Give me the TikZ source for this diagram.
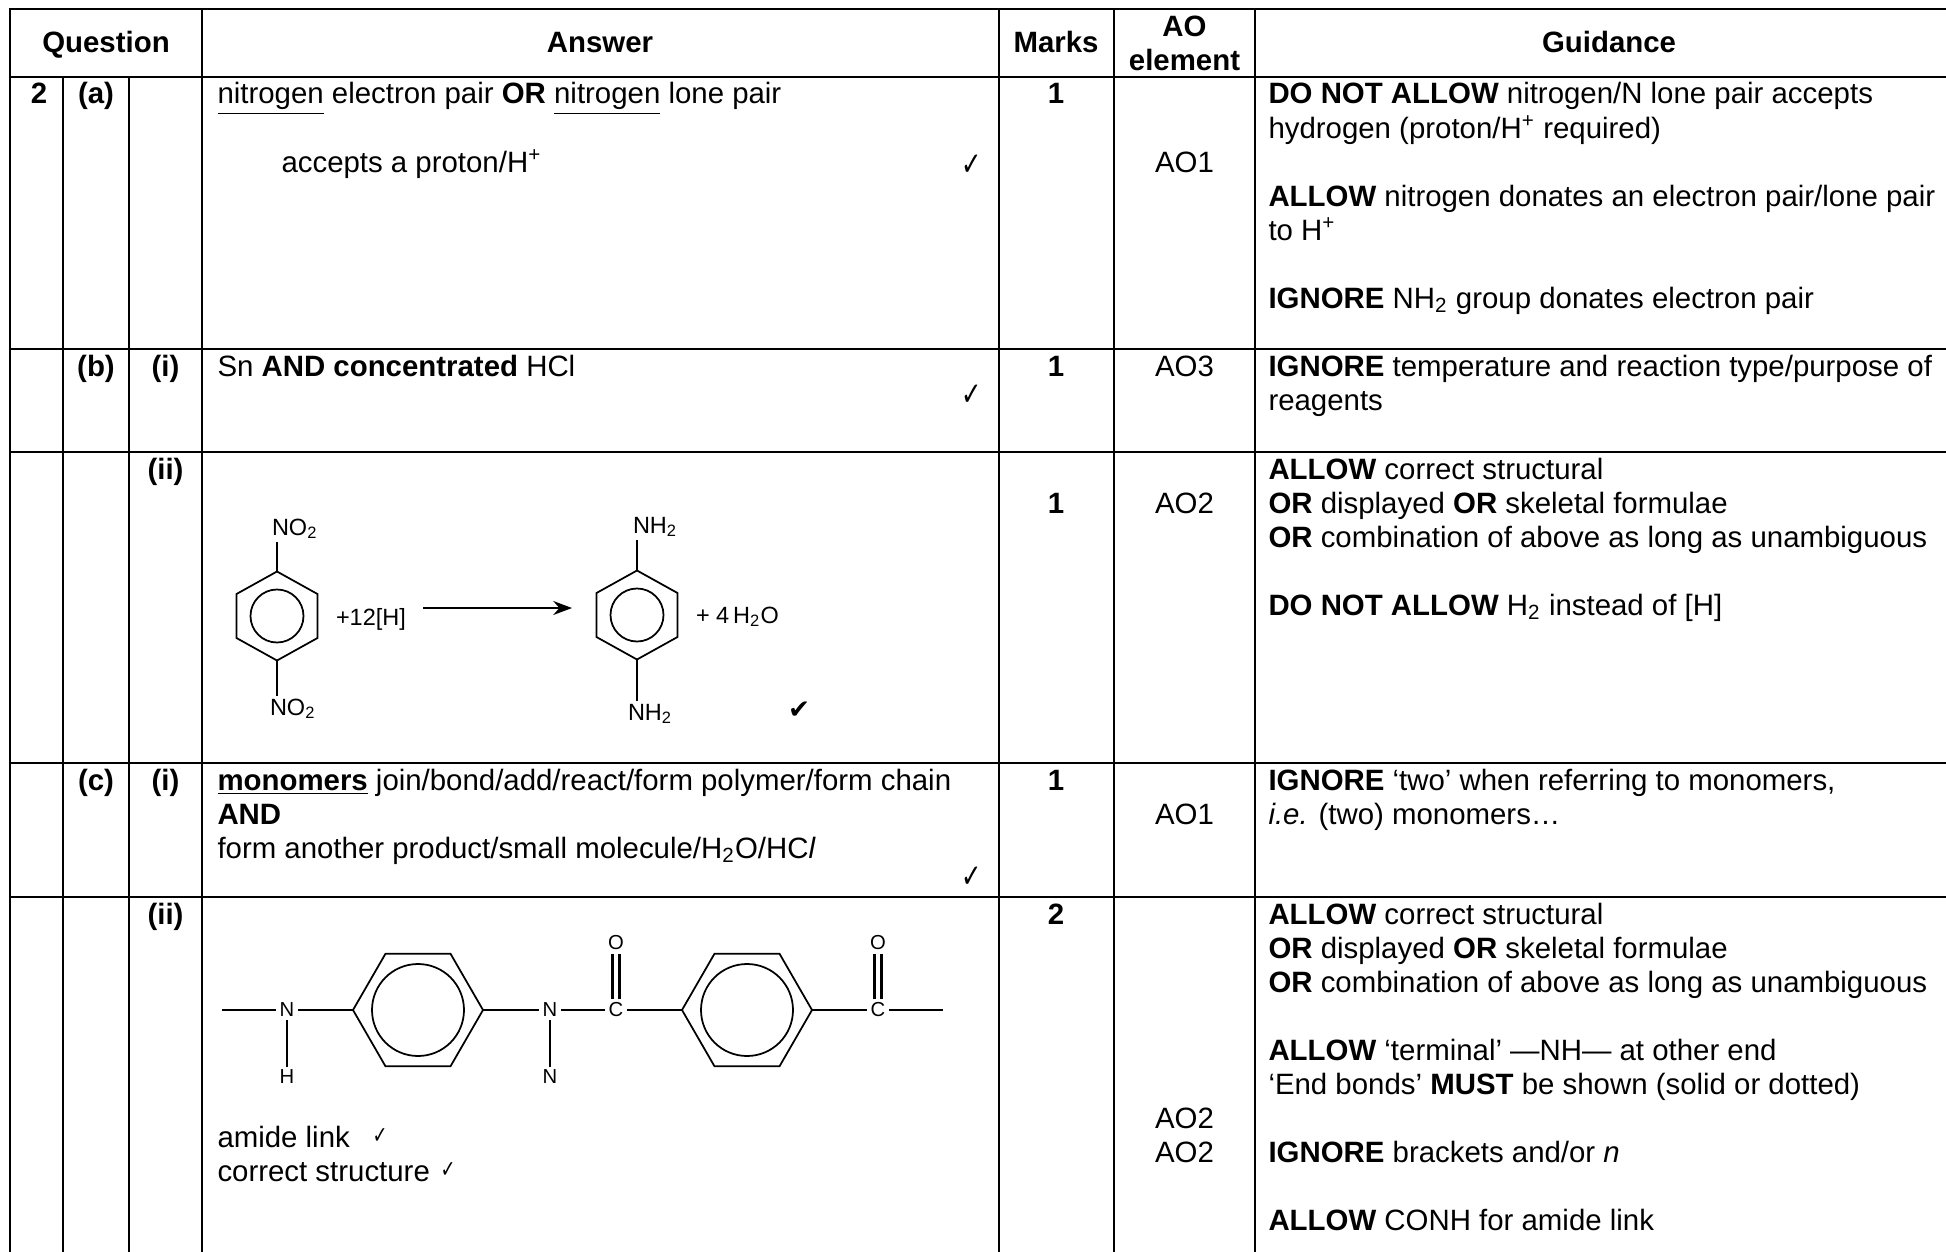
\documentclass[tikz,border=0pt]{standalone}
\usepackage{fontspec}
\setmainfont{Liberation Sans}
\newfontfamily\tickFont{DejaVu Sans}
\usetikzlibrary{arrows.meta}
\newcommand{\lineAt}[4]{%%
  %% One line of text, from its left end, on its baseline.
  \node[leftStyle] (#1) at (#2,#3) {#4};
}
\newcommand{\midAt}[4]{%%
  %% One line of text, centred on its baseline.
  \node[midStyle] (#1) at (#2,#3) {#4};
}
\newcommand{\tickAt}[4]{%%
  %% A tick of the given size (pt).
  \node[tickStyle, font=\tickFont\fontsize{#4}{#4}\selectfont] (#1) at (#2,#3) {\scalebox{0.75}[1]{✓}};
}
\newcommand{\ringUp}[3]{%%
  %% A benzene ring with a corner at top and bottom.
  \coordinate (#1) at (#2,#3);
  \coordinate (#1-t) at (#2,#3-44.5);
  \coordinate (#1-b) at (#2,#3+44.5);
  \draw[ringStyle] (#1-t) -- ++(40.5,22.5) -- ++(0,44) -- (#1-b)
    -- ++(-40.5,-22.5) -- ++(0,-44) -- cycle;
  \draw[ringStyle] (#1) circle[radius=26.5];
}
\newcommand{\ringFlat}[3]{%%
  %% A benzene ring with a corner at left and right.
  \coordinate (#1) at (#2,#3);
  \coordinate (#1-w) at (#2-65,#3);
  \coordinate (#1-e) at (#2+65,#3);
  \draw[ringStyle] (#1-w) -- ++(32.5,-56.3) -- ++(65,0) -- (#1-e)
    -- ++(-32.5,56.3) -- ++(-65,0) -- cycle;
  \draw[ringStyle] (#1) circle[radius=46];
}
\begin{document}
\begin{tikzpicture}[%%
  x=0.4pt, y=-0.4pt,
  every node/.style={font=\fontsize{11.76}{13.6}\selectfont},
  gridStyle/.style={line width=0.8pt, line cap=rect},
  leftStyle/.style={anchor=base west, inner sep=0pt},
  midStyle/.style={anchor=base, inner sep=0pt},
  tickStyle/.style={inner sep=0pt},
  labelStyle/.style={anchor=base west, inner sep=1pt, font=\fontsize{9.4}{11}\selectfont},
  atomStyle/.style={inner sep=1.2pt, font=\fontsize{8.1}{9.6}\selectfont},
  ringStyle/.style={line width=0.7pt},
  bondStyle/.style={line width=0.6pt},
  endBondStyle/.style={line width=1.1pt},
  arrowStyle/.style={line width=0.7pt, -{Stealth[length=7.5pt, width=5.6pt]}}
]
\useasboundingbox (0,0) rectangle (1946,1252);
\clip (0,0) rectangle (1946,1252);
%%
%%
%% Column edges and row edges.
\pgfmathsetmacro{\xLeft}{10}
\pgfmathsetmacro{\xNum}{63}
\pgfmathsetmacro{\xPart}{129}
\pgfmathsetmacro{\xAns}{202}
\pgfmathsetmacro{\xMarks}{999}
\pgfmathsetmacro{\xAO}{1114}
\pgfmathsetmacro{\xGuide}{1255}
\pgfmathsetmacro{\yTop}{9}
\pgfmathsetmacro{\yHead}{77}
\foreach \y in {\yTop,\yHead,349,452,763,897}
  \draw[gridStyle] (\xLeft,\y) -- (1960,\y);
\foreach \x in {\xLeft,\xAns,\xMarks,\xAO,\xGuide}
  \draw[gridStyle] (\x,\yTop) -- (\x,1260);
\foreach \x in {\xNum,\xPart}
  \draw[gridStyle] (\x,\yHead) -- (\x,1260);
%%
%%
%% The header row.
\midAt{hQuestion}{106}{53}{\textbf{Question}}
\midAt{hAnswer}{600}{53}{\textbf{Answer}}
\midAt{hMarks}{1056}{53}{\textbf{Marks}}
\midAt{hAO}{1184.5}{37}{\textbf{AO}}
\midAt{hElement}{1184.5}{71}{\textbf{element}}
\midAt{hGuidance}{1609}{53}{\textbf{Guidance}}
%%
%% Part (a).
\midAt{qNum}{39}{104}{\textbf{2}}
\midAt{qA}{96}{104}{\textbf{(a)}}
\lineAt{ansA}{217}{104}{\underline{nitrogen} electron pair \textbf{OR} \underline{nitrogen} lone pair}
\lineAt{ansAb}{281}{172}{accepts a proton/H\textsuperscript{+}}
\tickAt{tickA}{972}{165}{13}
\midAt{markA}{1056}{104}{\textbf{1}}
\midAt{aoA}{1184.5}{172}{AO1}
\lineAt{gA}{1268}{104}{\textbf{DO NOT ALLOW} nitrogen/N lone pair accepts}
\lineAt{gAb}{1268}{138}{hydrogen (proton/H\textsuperscript{+} required)}
\lineAt{gAc}{1268}{206}{\textbf{ALLOW} nitrogen donates an electron pair/lone pair}
\lineAt{gAd}{1268}{240}{to H\textsuperscript{+}}
\lineAt{gAe}{1268}{308}{\textbf{IGNORE} NH\textsubscript{2} group donates electron pair}
%%
%% Part (b)(i).
\midAt{qB}{96}{376}{\textbf{(b)}}
\midAt{qBi}{165.5}{376}{\textbf{(i)}}
\lineAt{ansB}{217}{376}{Sn \textbf{AND concentrated} HCl}
\tickAt{tickB}{972}{395}{13}
\midAt{markB}{1056}{376}{\textbf{1}}
\midAt{aoB}{1184.5}{376}{AO3}
\lineAt{gB}{1268}{376}{\textbf{IGNORE} temperature and reaction type/purpose of}
\lineAt{gBb}{1268}{410}{reagents}
%%
%% Part (b)(ii): the reduction.
\midAt{qBii}{165.5}{479}{\textbf{(ii)}}
\ringUp{ringL}{277}{616}
\ringUp{ringR}{637}{615}
\node[labelStyle] (noTop) at (269,535) {NO\textsubscript{2}};
\node[labelStyle] (noBot) at (267,715) {NO\textsubscript{2}};
\node[labelStyle] (hPlus) at (333,625) {+12[H]};
\node[labelStyle] (nhTop) at (630,533) {NH\textsubscript{2}};
\node[labelStyle] (nhBot) at (625,720) {NH\textsubscript{2}};
\node[labelStyle] (water) at (693,623) {+ 4\,H\textsubscript{2}O};
\draw[bondStyle] (ringL-t) -- (ringL-t |- noTop.south);
\draw[bondStyle] (ringL-b) -- (ringL-b |- noBot.north);
\draw[bondStyle] (ringR-t) -- (ringR-t |- nhTop.south);
\draw[bondStyle] (ringR-b) -- (ringR-b |- nhBot.north);
\coordinate (arrowFrom) at (423,608);
\coordinate (arrowTo) at (572,608);
\draw[arrowStyle] (arrowFrom) -- (arrowTo);
\node[tickStyle, font=\tickFont\fontsize{10.5}{10.5}\selectfont] (tickBii) at (799,710) {✔};
\midAt{markBii}{1056}{513}{\textbf{1}}
\midAt{aoBii}{1184.5}{513}{AO2}
\lineAt{gC}{1268}{479}{\textbf{ALLOW} correct structural}
\lineAt{gCb}{1268}{513}{\textbf{OR} displayed \textbf{OR} skeletal formulae}
\lineAt{gCc}{1268}{547}{\textbf{OR} combination of above as long as unambiguous}
\lineAt{gCd}{1268}{615}{\textbf{DO NOT ALLOW} H\textsubscript{2} instead of [H]}
%%
%% Part (c)(i).
\midAt{qC}{96}{790}{\textbf{(c)}}
\midAt{qCi}{165.5}{790}{\textbf{(i)}}
\lineAt{ansC}{217}{790}{\underline{\textbf{monomers}} join/bond/add/react/form polymer/form chain}
\lineAt{ansCb}{217}{824}{\textbf{AND}}
\lineAt{ansCc}{217}{858}{form another product/small molecule/H\textsubscript{2}O/HC\textit{l}}
\tickAt{tickC}{972}{877}{13}
\midAt{markC}{1056}{790}{\textbf{1}}
\midAt{aoC}{1184.5}{824}{AO1}
\lineAt{gD}{1268}{790}{\textbf{IGNORE} `two' when referring to monomers,}
\lineAt{gDb}{1268}{824}{\textit{i.e.} (two) monomers…}
%%
%% Part (c)(ii): the repeat unit.
\midAt{qCii}{165.5}{924}{\textbf{(ii)}}
\ringFlat{ringA}{418}{1010}
\ringFlat{ringB}{747}{1010}
\node[atomStyle] (nA) at (287,1010) {N};
\node[atomStyle] (hA) at (287,1077) {H};
\node[atomStyle] (nB) at (550,1010) {N};
\node[atomStyle] (nC) at (550,1077) {N};
\node[atomStyle] (cA) at (616,1010) {C};
\node[atomStyle] (oA) at (616,943) {O};
\node[atomStyle] (cB) at (878,1010) {C};
\node[atomStyle] (oB) at (878,943) {O};
\coordinate (endA) at (222,1010);
\coordinate (endB) at (943,1010);
\draw[endBondStyle] (endA) -- (nA);
\draw[bondStyle] (nA) -- (ringA-w);
\draw[endBondStyle] (nA) -- (hA);
\draw[bondStyle] (ringA-e) -- (nB);
\draw[endBondStyle] (nB) -- (nC);
\draw[endBondStyle] (nB) -- (cA);
\draw[bondStyle] (cA) -- (ringB-w);
\draw[bondStyle] (ringB-e) -- (cB);
\draw[endBondStyle] (cB) -- (endB);
\foreach \c/\o in {cA/oA,cB/oB} {
  \draw[endBondStyle] ([xshift=-1.5pt]\c.north) -- ([xshift=-1.5pt]\o.south);
  \draw[endBondStyle] ([xshift=1.5pt]\c.north) -- ([xshift=1.5pt]\o.south);
}
\lineAt{ansD}{217}{1147}{amide link}
\tickAt{tickD}{380}{1136}{9.5}
\lineAt{ansDb}{217}{1181}{correct structure}
\tickAt{tickDb}{448}{1170}{9.5}
\midAt{markD}{1056}{924}{\textbf{2}}
\midAt{aoD}{1184.5}{1128}{AO2}
\midAt{aoDb}{1184.5}{1162}{AO2}
\lineAt{gE}{1268}{924}{\textbf{ALLOW} correct structural}
\lineAt{gEb}{1268}{958}{\textbf{OR} displayed \textbf{OR} skeletal formulae}
\lineAt{gEc}{1268}{992}{\textbf{OR} combination of above as long as unambiguous}
\lineAt{gEd}{1268}{1060}{\textbf{ALLOW} `terminal' ---NH--- at other end}
\lineAt{gEe}{1268}{1094}{`End bonds' \textbf{MUST} be shown (solid or dotted)}
\lineAt{gEf}{1268}{1162}{\textbf{IGNORE} brackets and/or \textit{n}}
\lineAt{gEg}{1268}{1230}{\textbf{ALLOW} CONH for amide link}
\end{tikzpicture}
\end{document}
